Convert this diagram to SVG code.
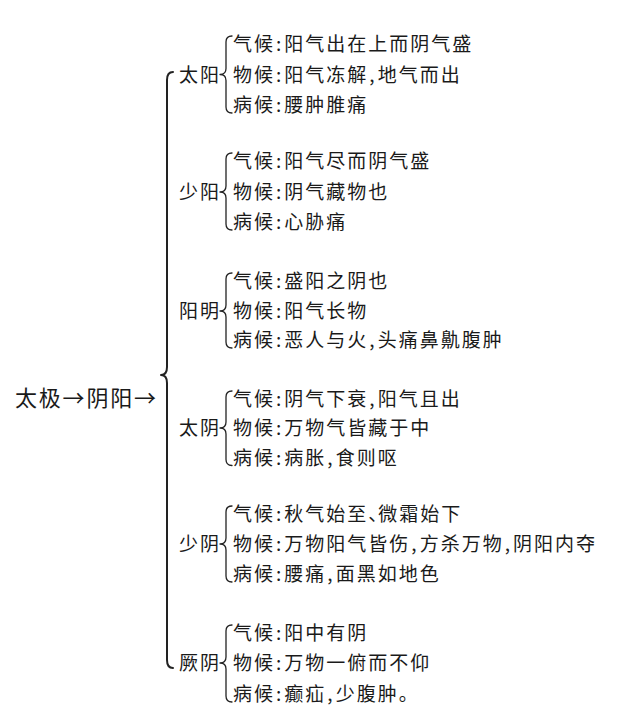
<svg xmlns="http://www.w3.org/2000/svg" width="622" height="720" viewBox="0 0 622 720">
<style>
  text { font-family: "Noto Sans CJK SC", "Noto Sans CJK TC", sans-serif; fill: #1a1a1a; }
  .t { font-size: 19px; letter-spacing: 2px; }
  .root { font-size: 22px; letter-spacing: 1.8px; }
  .narrow { letter-spacing: -9px; }
  .brace { fill: none; stroke: #222; stroke-width: 1.3; stroke-linecap: round; stroke-linejoin: round; }
  .big { fill: none; stroke: #222; stroke-width: 2; stroke-linecap: round; stroke-linejoin: round; }
</style>
<rect width="622" height="720" fill="#ffffff"/>
<g id="connectors">
  <path class="big" d="M173,72 Q167,72 167,80 L167,367 Q167,375 161,375 Q167,375 167,383 L167,660 Q167,668 173,668"/>
  <path class="brace" d="M232,36 Q226,36 226,42 L226,68.5 Q226,74.5 220,74.5 Q226,74.5 226,80.5 L226,107 Q226,113 232,113"/>
  <path class="brace" d="M232,153 Q226,153 226,159 L226,186 Q226,192 220,192 Q226,192 226,198 L226,224 Q226,230 232,230"/>
  <path class="brace" d="M232,273 Q226,273 226,279 L226,305 Q226,311 220,311 Q226,311 226,317 L226,342 Q226,348 232,348"/>
  <path class="brace" d="M232,391 Q226,391 226,397 L226,422 Q226,428 220,428 Q226,428 226,434 L226,459.5 Q226,465.5 232,465.5"/>
  <path class="brace" d="M232,506 Q226,506 226,512 L226,538 Q226,544 220,544 Q226,544 226,550 L226,576 Q226,582 232,582"/>
  <path class="brace" d="M232,625 Q226,625 226,631 L226,657 Q226,663 220,663 Q226,663 226,669 L226,696 Q226,702 232,702"/>
</g>
<g id="root">
  <text class="root" x="15" y="406">太极→阴阳→</text>
</g>
<g id="taiyang">
  <text class="t" x="179" y="81.5">太阳</text>
  <text class="t" x="233" y="51">气候<tspan dx="1">:</tspan><tspan dx="1">阳气出在上而阴气盛</tspan></text>
  <text class="t" x="233" y="81.5">物候<tspan dx="1">:</tspan><tspan dx="1">阳气冻解</tspan><tspan dx="1">,</tspan><tspan dx="1">地气而出</tspan></text>
  <text class="t" x="233" y="112">病候<tspan dx="1">:</tspan><tspan dx="1">腰肿脽痛</tspan></text>
</g>
<g id="shaoyang">
  <text class="t" x="179" y="199">少阳</text>
  <text class="t" x="233" y="168">气候<tspan dx="1">:</tspan><tspan dx="1">阳气尽而阴气盛</tspan></text>
  <text class="t" x="233" y="199">物候<tspan dx="1">:</tspan><tspan dx="1">阴气藏物也</tspan></text>
  <text class="t" x="233" y="229">病候<tspan dx="1">:</tspan><tspan dx="1">心胁痛</tspan></text>
</g>
<g id="yangming">
  <text class="t" x="179" y="318">阳明</text>
  <text class="t" x="233" y="288">气候<tspan dx="1">:</tspan><tspan dx="1">盛阳之阴也</tspan></text>
  <text class="t" x="233" y="318">物候<tspan dx="1">:</tspan><tspan dx="1">阳气长物</tspan></text>
  <text class="t" x="233" y="347">病候<tspan dx="1">:</tspan><tspan dx="1">恶人与火</tspan><tspan dx="1">,</tspan><tspan dx="1">头痛鼻鼽腹肿</tspan></text>
</g>
<g id="taiyin">
  <text class="t" x="179" y="435">太阴</text>
  <text class="t" x="233" y="406">气候<tspan dx="1">:</tspan><tspan dx="1">阴气下衰</tspan><tspan dx="1">,</tspan><tspan dx="1">阳气且出</tspan></text>
  <text class="t" x="233" y="435">物候<tspan dx="1">:</tspan><tspan dx="1">万物气皆藏于中</tspan></text>
  <text class="t" x="233" y="464.5">病候<tspan dx="1">:</tspan><tspan dx="1">病胀</tspan><tspan dx="1">,</tspan><tspan dx="1">食则呕</tspan></text>
</g>
<g id="shaoyin">
  <text class="t" x="179" y="551">少阴</text>
  <text class="t" x="233" y="521">气候<tspan dx="1">:</tspan><tspan dx="1">秋气始至</tspan><tspan class="narrow">、</tspan>微霜始下</text>
  <text class="t" x="233" y="551">物候<tspan dx="1">:</tspan><tspan dx="1">万物阳气皆伤</tspan><tspan dx="1">,</tspan><tspan dx="1">方杀万物</tspan><tspan dx="1">,</tspan><tspan dx="1">阴阳内夺</tspan></text>
  <text class="t" x="233" y="581">病候<tspan dx="1">:</tspan><tspan dx="1">腰痛</tspan><tspan dx="1">,</tspan><tspan dx="1">面黑如地色</tspan></text>
</g>
<g id="jueyin">
  <text class="t" x="179" y="670">厥阴</text>
  <text class="t" x="233" y="640">气候<tspan dx="1">:</tspan><tspan dx="1">阳中有阴</tspan></text>
  <text class="t" x="233" y="670">物候<tspan dx="1">:</tspan><tspan dx="1">万物一俯而不仰</tspan></text>
  <text class="t" x="233" y="701">病候<tspan dx="1">:</tspan><tspan dx="1">癫疝</tspan><tspan dx="1">,</tspan><tspan dx="1">少腹肿。</tspan></text>
</g>
</svg>
